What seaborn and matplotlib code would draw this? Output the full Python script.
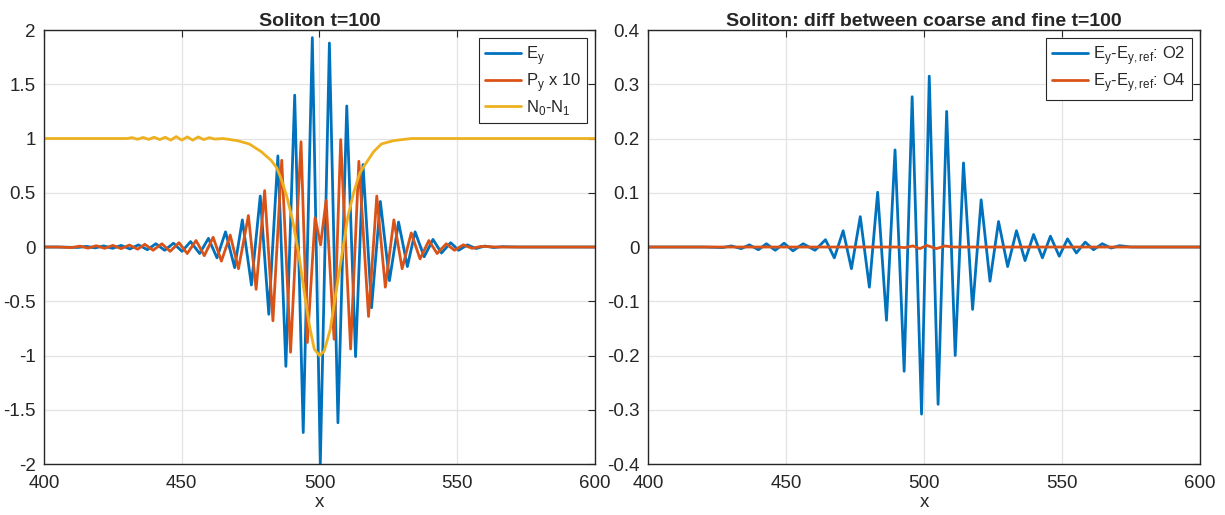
import matplotlib
matplotlib.use('Agg')
import matplotlib.pyplot as plt
import seaborn as sns
import pandas as pd
from matplotlib.ticker import FuncFormatter, MultipleLocator

# --- data (extrema of each trace) ---
ey_x = [400, 405, 412.3, 415.4, 418.6, 421.7, 424.9, 428.0, 431.2, 434.3, 437.5, 440.6, 443.8,
        447.0, 450.1, 453.2, 456.5, 459.7, 462.8, 465.9, 469.2, 472.0, 475.3, 478.5, 481.6,
        484.9, 487.8, 491.0, 494.1, 497.4, 500.3, 503.6, 506.7, 509.9, 513.1, 515.8, 518.9,
        522.1, 525.4, 528.7, 531.9, 534.7, 538.0, 541.2, 544.3, 547.6, 550.5, 553.7, 556.8,
        560.0, 563.2, 566.3, 572, 600]
ey_y = [0, 0, -0.004, 0.006, -0.008, 0.01, -0.012, 0.015, -0.018, 0.02, -0.025, 0.03, -0.03,
        0.035, -0.04, 0.05, -0.06, 0.08, -0.10, 0.14, -0.19, 0.25, -0.35, 0.47, -0.62,
        0.84, -1.10, 1.40, -1.71, 1.93, -2.0, 1.88, -1.62, 1.30, -1.01, 0.76, -0.56,
        0.42, -0.31, 0.23, -0.18, 0.14, -0.09, 0.07, -0.055, 0.04, -0.03, 0.02, -0.014,
        0.009, -0.005, 0.003, 0, 0]

py_x = [400, 405, 410, 413, 416, 419, 422, 425, 428, 431, 434, 436.6, 439.6, 442.8, 445.8,
        449.0, 452.0, 455.2, 458.2, 461.4, 464.4, 467.6, 470.6, 474.2, 477.0, 480.1, 483.1,
        486.3, 489.5, 493.3, 495.6, 498.4, 500.4, 502.4, 505.3, 507.7, 511.3, 514.3, 517.8,
        520.8, 523.9, 527.0, 530.0, 533.3, 536.5, 539.7, 542.7, 546.0, 549.0, 552.2, 555.4,
        558.6, 565, 600]
py_y = [0, 0, -0.005, 0.008, -0.01, 0.012, -0.012, 0.015, -0.015, 0.018, -0.02, 0.025, -0.03,
        0.03, -0.04, 0.04, -0.06, 0.06, -0.08, 0.09, -0.13, 0.11, -0.20, 0.29, -0.39, 0.52,
        -0.68, 0.80, -0.97, 0.97, -0.88, 0.27, 0.02, 0.43, -0.85, 0.99, -0.94, 0.79, -0.64,
        0.47, -0.37, 0.25, -0.20, 0.13, -0.11, 0.06, -0.06, 0.03, -0.03, 0.02, -0.012,
        0.006, 0, 0]

n_x = [400, 430, 432, 434, 436, 438, 440, 442, 444, 446, 448, 450, 452, 454, 456, 458, 460,
       462, 465, 470.2, 474.5, 478.8, 482.4, 484.5, 486.2, 488.1, 490.2, 492.4, 494.5, 496.4,
       498.1, 500.0, 501.7, 503.9, 506.0, 508.2, 510.3, 512.5, 514.6, 516.8, 519.7, 522.5,
       526.8, 533.3, 545, 600]
n_y = [1.0, 1.0, 1.008, 0.993, 1.01, 0.992, 1.012, 0.99, 1.012, 0.985, 1.018, 0.985, 1.015,
       0.985, 1.015, 0.99, 1.008, 0.995, 1.0, 0.98, 0.95, 0.88, 0.80, 0.73, 0.62, 0.47, 0.25,
       -0.05, -0.42, -0.73, -0.94, -1.0, -0.96, -0.76, -0.42, -0.06, 0.28, 0.51, 0.68, 0.77,
       0.88, 0.95, 0.98, 1.0, 1.0, 1.0]

o2_x = [400, 420, 427, 430.2, 433.8, 436.7, 440.0, 442.9, 446.1, 449.3, 452.5, 456.2, 460.5,
        464.3, 467.5, 470.7, 473.7, 476.9, 480.2, 483.2, 486.4, 489.5, 492.8, 495.7, 499.1,
        501.9, 505.1, 508.2, 511.3, 514.3, 517.6, 520.7, 523.9, 527.0, 530.3, 533.5, 536.6,
        539.7, 542.9, 545.8, 549.0, 552.0, 555.2, 558.4, 561.4, 564.6, 567.8, 570.8, 575, 600]
o2_y = [0, 0, -0.001, 0.002, -0.003, 0.004, -0.005, 0.006, -0.006, 0.007, -0.007, 0.006, -0.006,
        0.0135, -0.020, 0.030, -0.040, 0.056, -0.074, 0.101, -0.135, 0.179, -0.229, 0.277, -0.308,
        0.315, -0.290, 0.250, -0.200, 0.155, -0.115, 0.087, -0.063, 0.047, -0.036, 0.030, -0.025,
        0.023, -0.020, 0.020, -0.017, 0.015, -0.011, 0.009, -0.005, 0.006, -0.002, 0.0025, 0, 0]

o4_x = [400, 490, 493, 496, 498.5, 501, 504.5, 507.5, 510.5, 600]
o4_y = [0, 0, -0.001, 0.002, -0.003, 0.003, -0.003, 0.002, 0, 0]

BLUE = '#0072BD'
ORANGE = '#D95319'
YELLOW = '#EDB120'
DARK = '#262626'

sns.set_style('white')
plt.rcParams['font.family'] = ['Liberation Sans', 'DejaVu Sans']
plt.rcParams['axes.unicode_minus'] = False
plt.rcParams['mathtext.fontset'] = 'custom'
plt.rcParams['mathtext.rm'] = 'Liberation Sans'

fig = plt.figure(figsize=(12.25, 5.15), dpi=100)
ax1 = fig.add_axes([0.0359, 0.099, 0.4498, 0.8427])
ax2 = fig.add_axes([0.529, 0.099, 0.4506, 0.8427])


def style_axes(ax, ylim, ystep):
    ax.set_xlim(400, 600)
    ax.set_ylim(*ylim)
    ax.xaxis.set_major_locator(MultipleLocator(50))
    ax.yaxis.set_major_locator(MultipleLocator(ystep))
    ax.yaxis.set_major_formatter(FuncFormatter(lambda v, p: '%g' % round(v, 6)))
    ax.grid(True, color='#e3e3e3', lw=0.9)
    ax.set_axisbelow(True)
    for s in ax.spines.values():
        s.set_color(DARK)
        s.set_linewidth(1.0)
    ax.tick_params(direction='in', length=5, width=0.8, colors=DARK, labelsize=13.5,
                   top=True, right=True)
    ax.tick_params(axis='x', pad=8)
    ax.tick_params(axis='y', pad=6)
    ax.set_xlabel('x', fontsize=13.5, color=DARK, labelpad=1)
    ax.set_ylabel('')


# left panel
sns.lineplot(x=ey_x, y=ey_y, ax=ax1, color=BLUE, lw=2, label=r'E$_\mathregular{y}$',
             estimator=None, errorbar=None)
sns.lineplot(x=py_x, y=py_y, ax=ax1, color=ORANGE, lw=2, label=r'P$_\mathregular{y}$ x 10',
             estimator=None, errorbar=None)
sns.lineplot(x=n_x, y=n_y, ax=ax1, color=YELLOW, lw=2,
             label=r'N$_\mathregular{0}$-N$_\mathregular{1}$', estimator=None, errorbar=None)
style_axes(ax1, (-2, 2), 0.5)
ax1.set_title('Soliton t=100', fontsize=14, fontweight='bold', pad=3)

# right panel
sns.lineplot(x=o2_x, y=o2_y, ax=ax2, color=BLUE, lw=2,
             label=r'E$_\mathregular{y}$-E$_\mathregular{y,ref}$: O2', estimator=None, errorbar=None)
sns.lineplot(x=o4_x, y=o4_y, ax=ax2, color=ORANGE, lw=2,
             label=r'E$_\mathregular{y}$-E$_\mathregular{y,ref}$: O4', estimator=None, errorbar=None)
style_axes(ax2, (-0.4, 0.4), 0.1)
ax2.set_title('Soliton: diff between coarse and fine t=100', fontsize=14, fontweight='bold', pad=3)

for ax in (ax1, ax2):
    leg = ax.legend(loc='upper right', frameon=True, fancybox=False, framealpha=1,
                    edgecolor=DARK, fontsize=12, handlelength=2.15, handletextpad=0.3,
                    labelspacing=0.25, borderaxespad=0.5, borderpad=0.35)
    leg.get_frame().set_linewidth(0.8)

fig.savefig('out.png', dpi=100)
